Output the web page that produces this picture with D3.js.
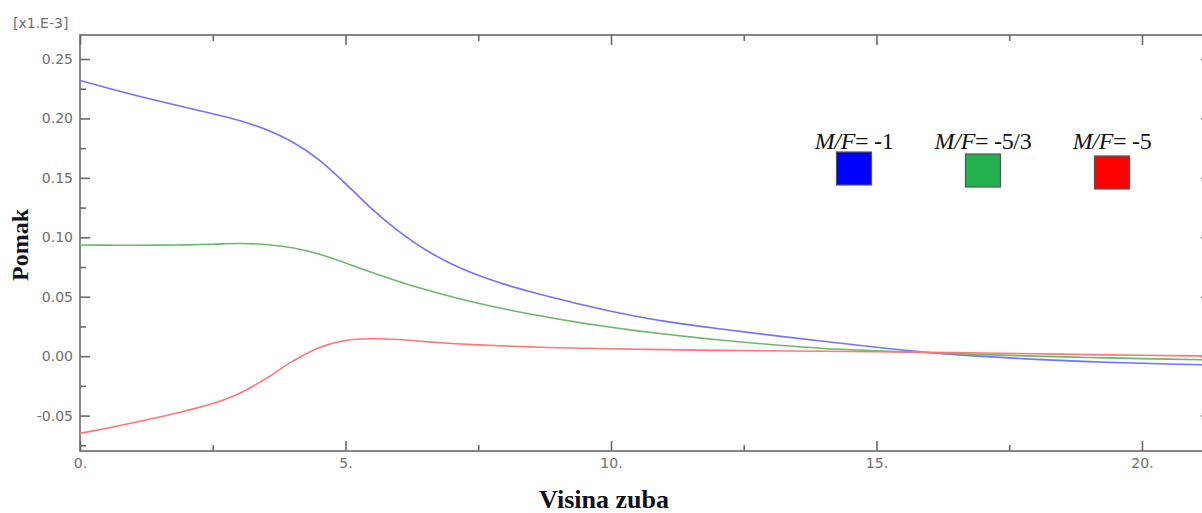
<!DOCTYPE html>
<html>
<head>
<meta charset="utf-8">
<script src="https://cdn.jsdelivr.net/npm/d3@7"></script>
<style>
    body { margin: 0; background: #fff; }
    svg { display: block; }
    .tick text { fill: #6e6e6e; font-family: "DejaVu Sans", sans-serif; font-size: 14px; }
    .tick line { stroke: #6a6a6a; stroke-width: 1.6; }
</style>
</head>
<body>
<svg id="chart"></svg>
<script>
"use strict";

// height along tooth (x) and displacement [x1.E-3] (y)
var visina = [0, 0.5, 1, 1.5, 2, 2.5, 3, 3.5, 4, 4.5, 5, 5.5, 6, 6.5, 7, 7.5, 8, 8.5, 9, 9.5, 10, 10.5, 11, 12, 13, 14, 15, 16, 17, 18, 19, 20, 21.2];
var pomakMF1 = [0.232, 0.2258, 0.2200, 0.2145, 0.2092, 0.2039, 0.1982, 0.1907, 0.1802, 0.1652, 0.1452, 0.1237, 0.1052, 0.0897, 0.0775, 0.0680, 0.0604, 0.0540, 0.0483, 0.0428, 0.0378, 0.0334, 0.0295, 0.0232, 0.0177, 0.0125, 0.0075, 0.003, -0.0002, -0.0027, -0.0046, -0.006, -0.0073];
var pomakMF53 = [0.0935, 0.0934, 0.0933, 0.0934, 0.0936, 0.0942, 0.0948, 0.0940, 0.0912, 0.0859, 0.0784, 0.0704, 0.0629, 0.0561, 0.0500, 0.0445, 0.0396, 0.0352, 0.0312, 0.0276, 0.0243, 0.0213, 0.0186, 0.0138, 0.0098, 0.0065, 0.0045, 0.0028, 0.0013, 0.0000, -0.0011, -0.0021, -0.0031];
var pomakMF5 = [-0.065, -0.0607, -0.0561, -0.0512, -0.0459, -0.0399, -0.0314, -0.0189, -0.0044, 0.0071, 0.0131, 0.0146, 0.0140, 0.0122, 0.0107, 0.0095, 0.0086, 0.0078, 0.0071, 0.0066, 0.0062, 0.0058, 0.0055, 0.0049, 0.0045, 0.0041, 0.0037, 0.0033, 0.0027, 0.002, 0.0013, 0.0007, 0.0002];

var legendLabels = ["= -1", "= -5/3", "= -5"];
var legendFill = ["#0000ff", "#22b14c", "#ff0000"];
var lineColors = ["#7272ff", "#6cb86c", "#ff7777"];

var xTicks = [0, 5, 10, 15, 20];
var xMinor = [2.5, 7.5, 12.5, 17.5];
var yTicks = [-0.05, 0, 0.05, 0.10, 0.15, 0.20, 0.25];
var yMinor = [-0.075, -0.025, 0.025, 0.075, 0.125, 0.175, 0.225];

var width = 1202, height = 513;
var margin = {left: 80, top: 35, right: 1211, bottom: 451};

var svg = d3.select("#chart")
    .attr("width", width)
    .attr("height", height);

var xScale = d3.scaleLinear()
    .domain([0, 21.3])
    .range([margin.left, margin.right]);
var yScale = d3.scaleLinear()
    .domain([-0.0798, 0.2702])
    .range([margin.bottom, margin.top]);

// axes - ticks point inwards
function addAxis(gen, tx, ty, vals, size, fmt) {
    svg.append("g")
        .attr("transform", "translate(" + tx + "," + ty + ")")
        .call(gen.tickValues(vals).tickSize(size).tickPadding(7).tickFormat(fmt))
        .call(g => g.select(".domain").remove());
}
var noFmt = () => "";

addAxis(d3.axisLeft(yScale), margin.left, 0, yTicks, -10, d => d.toFixed(2));
addAxis(d3.axisLeft(yScale), margin.left, 0, yMinor, -6, noFmt);
addAxis(d3.axisRight(yScale), margin.right, 0, yTicks, -10, noFmt);
addAxis(d3.axisRight(yScale), margin.right, 0, yMinor, -6, noFmt);
addAxis(d3.axisBottom(xScale), 0, margin.bottom, xTicks, -10, d => d + ".");
addAxis(d3.axisBottom(xScale), 0, margin.bottom, xMinor, -6, noFmt);
addAxis(d3.axisTop(xScale), 0, margin.top, xTicks, -10, noFmt);
addAxis(d3.axisTop(xScale), 0, margin.top, xMinor, -6, noFmt);

// frame
svg.append("rect")
    .attr("x", margin.left)
    .attr("y", margin.top)
    .attr("width", margin.right - margin.left)
    .attr("height", margin.bottom - margin.top)
    .style("fill", "none")
    .style("stroke", "#6a6a6a")
    .style("stroke-width", 1.6);

// curves
svg.append("clipPath").attr("id", "plotclip")
    .append("rect")
    .attr("x", margin.left)
    .attr("y", margin.top)
    .attr("width", margin.right - margin.left)
    .attr("height", margin.bottom - margin.top);

var line = d3.line()
    .x((d, i) => xScale(visina[i]))
    .y(d => yScale(d))
    .curve(d3.curveCatmullRom.alpha(0.5));

var series = [pomakMF1, pomakMF53, pomakMF5];
svg.append("g")
    .attr("clip-path", "url(#plotclip)")
    .selectAll("path")
    .data(series)
    .enter()
    .append("path")
    .attr("d", line)
    .style("fill", "none")
    .style("stroke", (d, i) => lineColors[i])
    .style("stroke-width", 1.6);

// unit label
svg.append("text")
    .attr("x", 13)
    .attr("y", 28)
    .text("[x1.E-3]")
    .style("font-family", "DejaVu Sans, sans-serif")
    .style("font-size", "14px")
    .style("fill", "#6e6e6e");

// axis titles
svg.append("text")
    .attr("transform", "translate(28,245) rotate(-90)")
    .attr("text-anchor", "middle")
    .text("Pomak")
    .style("font-family", "Liberation Serif, serif")
    .style("font-weight", "bold")
    .style("font-size", "24px")
    .style("fill", "#10101e");

svg.append("text")
    .attr("x", 604)
    .attr("y", 508)
    .attr("text-anchor", "middle")
    .text("Visina zuba")
    .style("font-family", "Liberation Serif, serif")
    .style("font-weight", "bold")
    .style("font-size", "26px")
    .style("fill", "#10101e");

// legend
var legendX = [854, 983, 1112];
var legendY = [152, 154, 156];
var leg = svg.append("g")
    .selectAll("g")
    .data(legendLabels)
    .enter()
    .append("g");

var lt = leg.append("text")
    .attr("x", (d, i) => legendX[i])
    .attr("y", 149)
    .attr("text-anchor", "middle")
    .style("font-family", "Liberation Serif, serif")
    .style("font-size", "24px")
    .style("letter-spacing", "-0.3px")
    .style("fill", "#111");
lt.append("tspan").style("font-style", "italic").text("M/F");
lt.append("tspan").text(d => d);

leg.append("rect")
    .attr("x", (d, i) => legendX[i] - 17.5)
    .attr("y", (d, i) => legendY[i])
    .attr("width", 35)
    .attr("height", 33)
    .style("fill", (d, i) => legendFill[i])
    .style("stroke", "#555")
    .style("stroke-width", 1.2);
</script>
</body>
</html>
